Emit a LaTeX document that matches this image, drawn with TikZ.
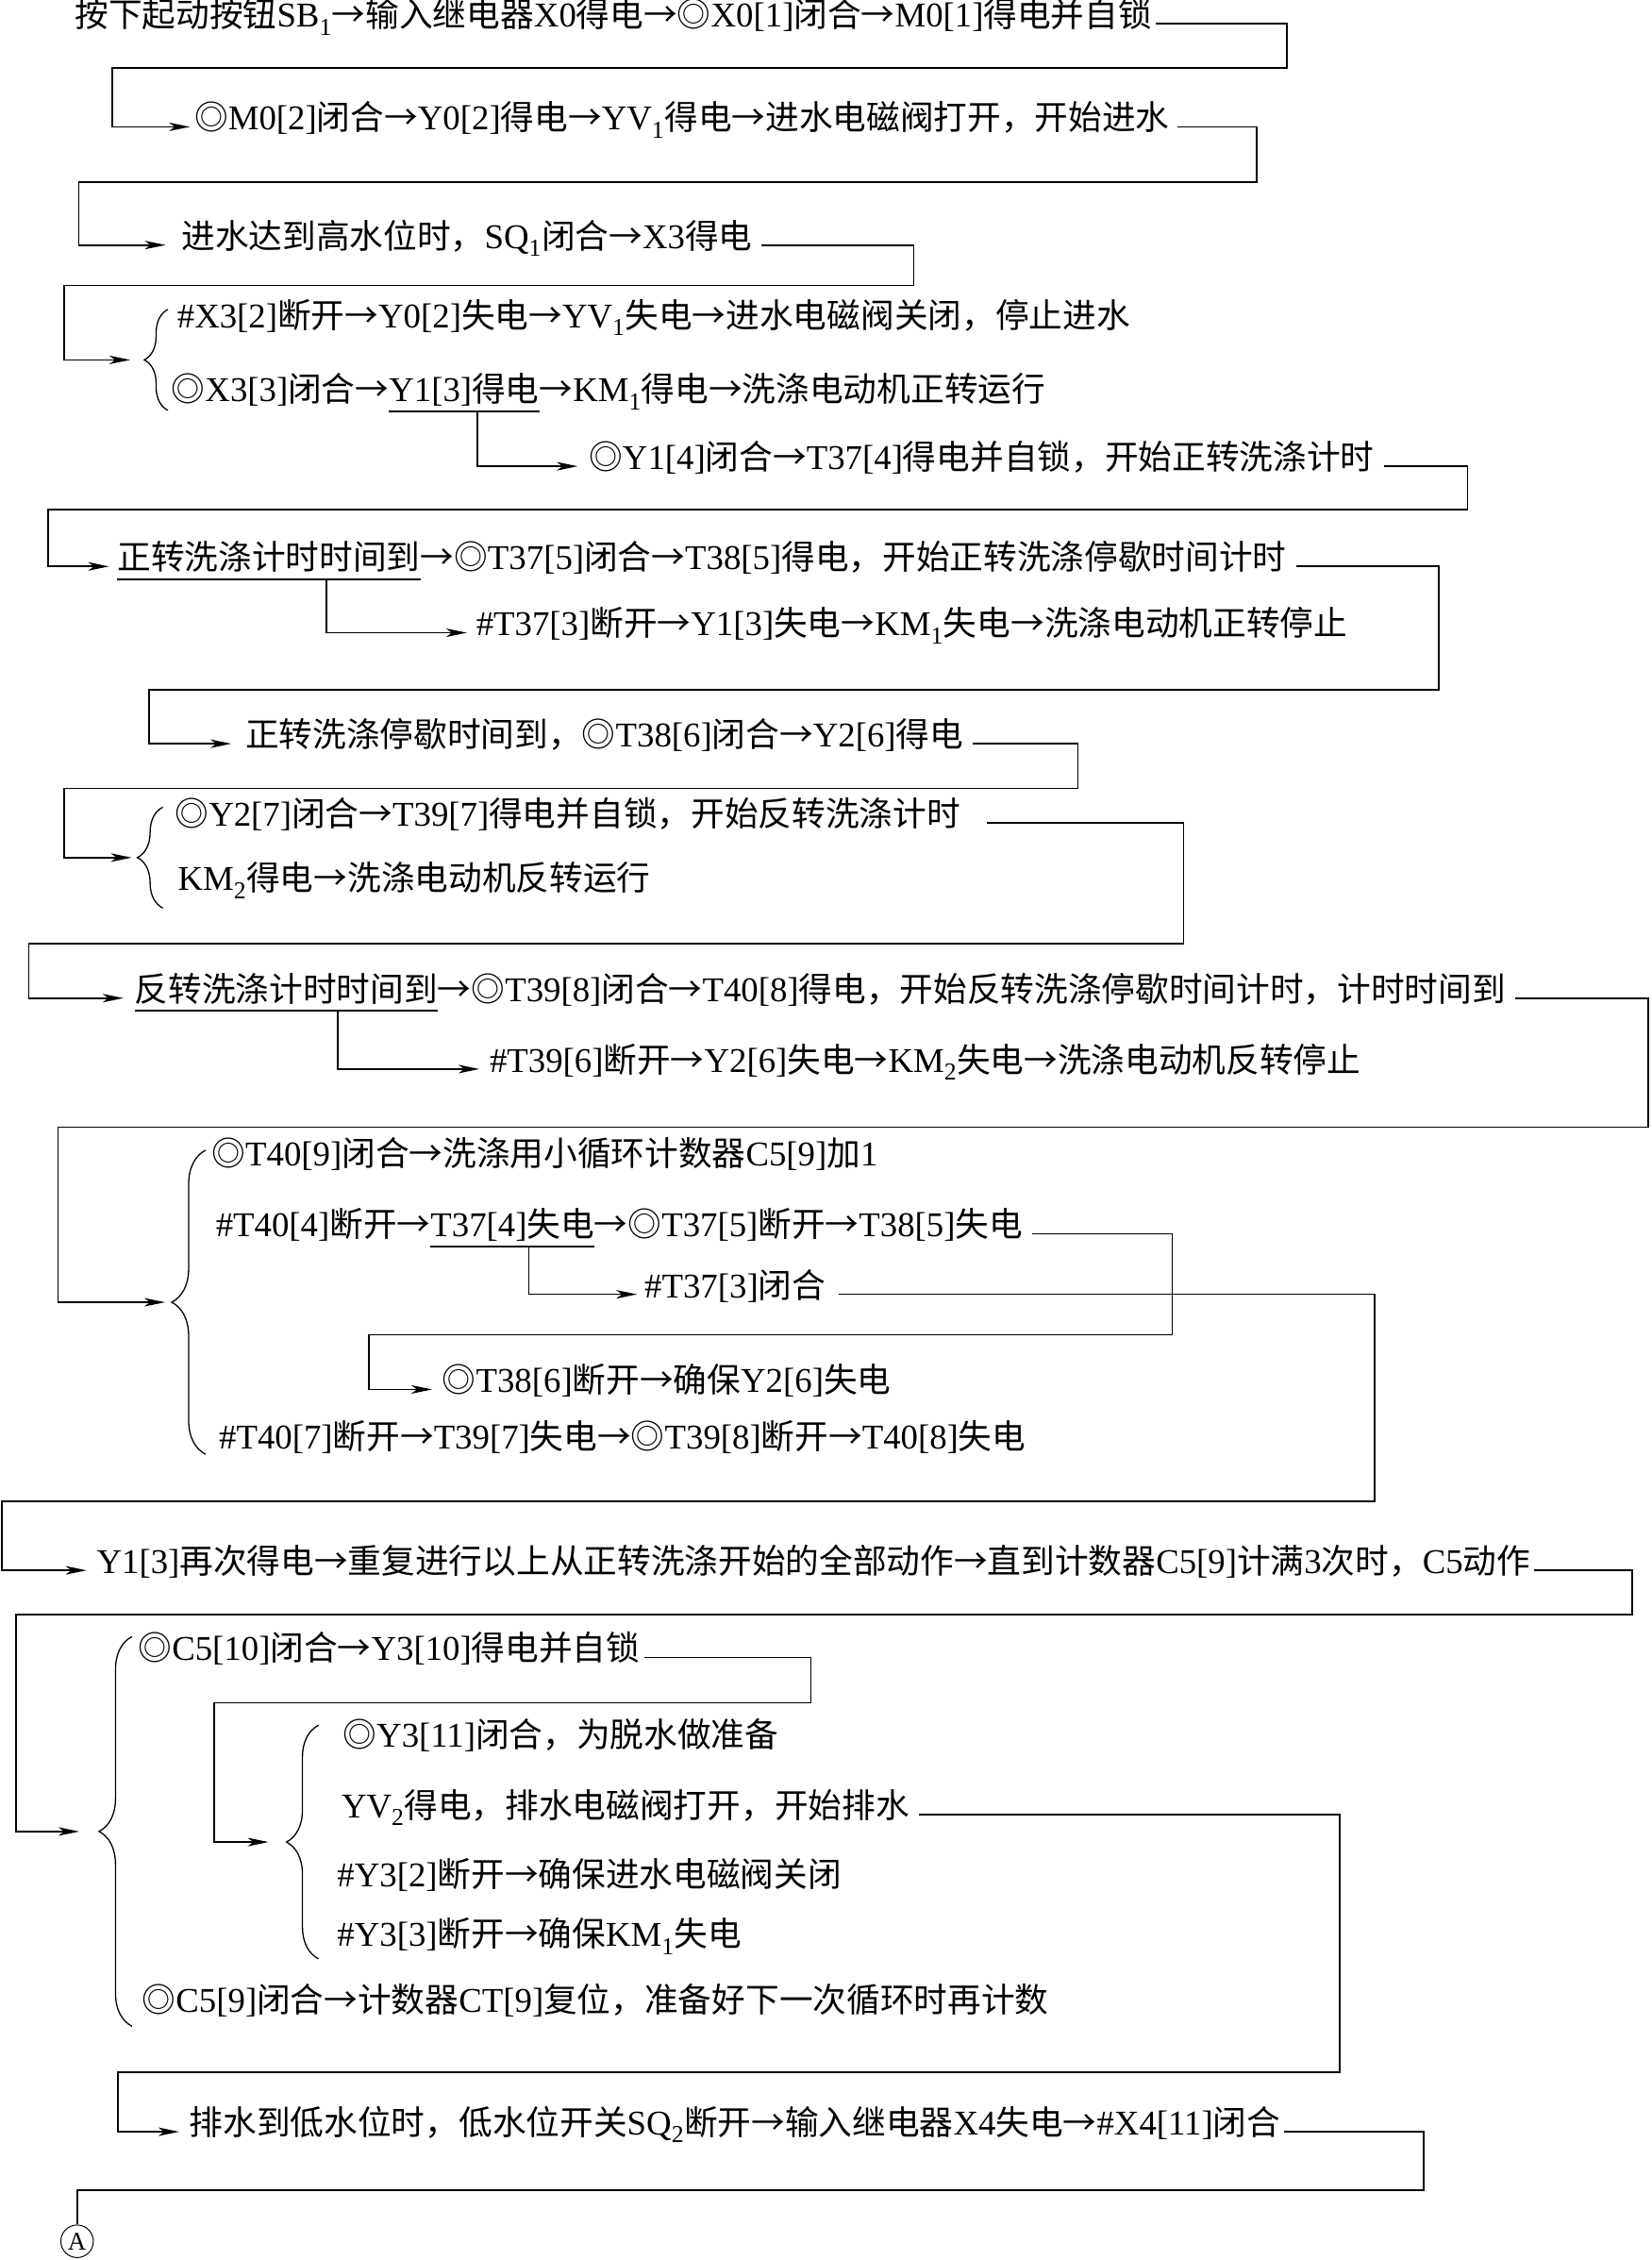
\documentclass[tikz,border=0pt]{standalone}
\usepackage{fontspec}
\setmainfont{Liberation Serif}
\newfontfamily\lafont{Liberation Serif}
\newfontfamily\zhfont[Scale=0.97]{Noto Sans CJK SC}
\usetikzlibrary{arrows.meta,decorations.pathreplacing,calc}
% automatic switch between Latin and CJK fonts
\XeTeXinterchartokenstate=1
\newXeTeXintercharclass\ZhCls
\newcount\zhcnt
\def\zhrange#1#2{\zhcnt=#1\relax\loop\XeTeXcharclass\zhcnt=\ZhCls\relax\advance\zhcnt by 1\relax\ifnum\zhcnt<#2\relax\repeat}
\zhrange{"4E00}{"A000}
\zhrange{"3000}{"3040}
\zhrange{"FF00}{"FFF0}
\zhrange{"2190}{"2200}
\zhrange{"25A0}{"2600}
\XeTeXinterchartoks 0 \ZhCls = {\zhfont}
\XeTeXinterchartoks 4095 \ZhCls = {\zhfont}
\XeTeXinterchartoks \ZhCls 0 = {\lafont}
\XeTeXinterchartoks \ZhCls 4095 = {\lafont}
\tikzset{
  txt/.style={anchor=west, inner sep=0pt, outer sep=0pt, text height=0.8em, text depth=0.12em,
    font=\fontsize{36.8}{40}\selectfont},
  conn/.style={line width=1.7pt},
  arr/.style={line width=1.7pt, -{Stealth[length=22pt,width=9pt,inset=6pt]}},
  brc/.style={line width=1.3pt, decorate, decoration={brace, amplitude=#1}},
  uln/.style={line width=1.9pt}
}
\begin{document}
\begin{tikzpicture}[x=1.528pt,y=-1.528pt]
\useasboundingbox (0,0) rectangle (1146,1568);

% ---------- texts ----------
\node[txt] (t1) at (52,16.5) {按下起动按钮SB\textsubscript{1}→输入继电器X0得电→◎X0[1]闭合→M0[1]得电并自锁};
\node[txt] (t2) at (135,88) {◎M0[2]闭合→Y0[2]得电→YV\textsubscript{1}得电→进水电磁阀打开，开始进水};
\node[txt] (t3) at (126,170) {进水达到高水位时，SQ\textsubscript{1}闭合→X3得电};
\node[txt] (t4a) at (123,225) {\#X3[2]断开→Y0[2]失电→YV\textsubscript{1}失电→进水电磁阀关闭，停止进水};
\node[txt] (t4b1) at (119,276.5) {◎X3[3]闭合→};
\node[txt] (t4b2) at (t4b1.east) {Y1[3]得电};
\node[txt] (t4b3) at (t4b2.east) {→KM\textsubscript{1}得电→洗涤电动机正转运行};
\node[txt] (t5) at (408.7,323.5) {◎Y1[4]闭合→T37[4]得电并自锁，开始正转洗涤计时};
\node[txt] (t6a) at (81.5,393) {正转洗涤计时时间到};
\node[txt] (t6b) at (t6a.east) {→◎T37[5]闭合→T38[5]得电，开始正转洗涤停歇时间计时};
\node[txt] (t7) at (330.5,439) {\#T37[3]断开→Y1[3]失电→KM\textsubscript{1}失电→洗涤电动机正转停止};
\node[txt] (t8) at (170.3,516) {正转洗涤停歇时间到，◎T38[6]闭合→Y2[6]得电};
\node[txt] (t9a) at (121.5,571) {◎Y2[7]闭合→T39[7]得电并自锁，开始反转洗涤计时};
\node[txt] (t9b) at (123.5,615.5) {KM\textsubscript{2}得电→洗涤电动机反转运行};
\node[txt] (t10a) at (93.5,692.5) {反转洗涤计时时间到};
\node[txt] (t10b) at (t10a.east) {→◎T39[8]闭合→T40[8]得电，开始反转洗涤停歇时间计时，计时时间到};
\node[txt] (t11) at (339.8,741.7) {\#T39[6]断开→Y2[6]失电→KM\textsubscript{2}失电→洗涤电动机反转停止};
\node[txt] (t12a) at (147,806.5) {◎T40[9]闭合→洗涤用小循环计数器C5[9]加1};
\node[txt] (t12b1) at (149.8,856) {\#T40[4]断开→};
\node[txt] (t12b2) at (t12b1.east) {T37[4]失电};
\node[txt] (t12b3) at (t12b2.east) {→◎T37[5]断开→T38[5]失电};
\node[txt] (t12c) at (447.3,898) {\#T37[3]闭合};
\node[txt] (t12d) at (307,964) {◎T38[6]断开→确保Y2[6]失电};
\node[txt] (t12e) at (152,1003) {\#T40[7]断开→T39[7]失电→◎T39[8]断开→T40[8]失电};
\node[txt] (t13) at (67.2,1089.5) {Y1[3]再次得电→重复进行以上从正转洗涤开始的全部动作→直到计数器C5[9]计满3次时，C5动作};
\node[txt] (t14a) at (96,1150) {◎C5[10]闭合→Y3[10]得电并自锁};
\node[txt] (t14b) at (238,1210) {◎Y3[11]闭合，为脱水做准备};
\node[txt] (t14c) at (237,1259) {YV\textsubscript{2}得电，排水电磁阀打开，开始排水};
\node[txt] (t14d) at (234,1306.7) {\#Y3[2]断开→确保进水电磁阀关闭};
\node[txt] (t14e) at (234,1348.2) {\#Y3[3]断开→确保KM\textsubscript{1}失电};
\node[txt] (t14f) at (98.7,1394) {◎C5[9]闭合→计数器CT[9]复位，准备好下一次循环时再计数};
\node[txt] (t15) at (131.5,1479) {排水到低水位时，低水位开关SQ\textsubscript{2}断开→输入继电器X4失电→\#X4[11]闭合};
\node[circle, draw, line width=1pt, minimum size=34.5pt, inner sep=0pt,
      font=\fontsize{27}{27}\selectfont] (A) at (53.5,1555) {A};

% ---------- braces ----------
\draw[brc=25pt] (116.5,284.7) -- (116.5,214.7);
\coordinate (b1) at (100.1,249.7);
\draw[brc=27pt] (113,630) -- (113,560);
\coordinate (b2) at (95.3,595);
\draw[brc=36pt] (142.7,1009) -- (142.7,798);
\coordinate (b3) at (119.1,903.5);
\draw[brc=35pt] (91.6,1405.8) -- (91.6,1135.5);
\coordinate (b4) at (68.7,1270.7);
\draw[brc=34pt] (221,1359) -- (221,1197);
\coordinate (b5) at (198.75,1278);

% ---------- underlines ----------
\draw[uln] ($(t4b2.south west)+(0pt,-9pt)$) -- ($(t4b2.south east)+(0pt,-9pt)$);
\coordinate (u1) at ($(t4b2.south west)!0.59!(t4b2.south east)+(0pt,-9pt)$);
\draw[uln] ($(t6a.south west)+(0pt,-9pt)$) -- ($(t6a.south east)+(0pt,-9pt)$);
\coordinate (u2) at ($(t6a.south west)!0.69!(t6a.south east)+(0pt,-9pt)$);
\draw[uln] ($(t10a.south west)+(0pt,-9pt)$) -- ($(t10a.south east)+(0pt,-9pt)$);
\coordinate (u3) at ($(t10a.south west)!0.67!(t10a.south east)+(0pt,-9pt)$);
\draw[uln] ($(t12b2.south west)+(0pt,-9pt)$) -- ($(t12b2.south east)+(0pt,-9pt)$);
\coordinate (u4) at ($(t12b2.south west)!0.6!(t12b2.south east)+(0pt,-9pt)$);

% ---------- connectors ----------
\draw[arr] ([xshift=4pt]t1.east) -| (893,47) -| (78,88) -- ([xshift=-5pt]t2.west);
\draw[arr] ([xshift=8pt]t2.east) -| (872,126.5) -| (54.6,170) -- ([xshift=-17pt]t3.west);
\draw[arr] ([xshift=10pt]t3.east) -| (634,198) -| (44.3,249.7) -- ([xshift=-15pt]b1);
\draw[arr] (u1) |- ([xshift=-12pt]t5.west);
\draw[arr] ([xshift=10pt]t5.east) -| (1018.4,353.4) -| (33.4,393) -- ([xshift=-9pt]t6a.west);
\draw[arr] (u2) |- ([xshift=-10pt]t7.west);
\draw[arr] ([xshift=10pt]t6b.east) -| (998.4,478.8) -| (103.5,516) -- ([xshift=-15pt]t8.west);
\draw[arr] ([xshift=10pt]t8.east) -| (748,547) -| (44.7,595) -- ([xshift=-6pt]b2);
\draw[arr] ([xshift=28pt]t9a.east) -| (821.4,654.9) -| (20,692.5) -- ([xshift=-12pt]t10a.west);
\draw[arr] (u3) |- ([xshift=-11pt]t11.west);
\draw[arr] ([xshift=10pt]t10b.east) -| (1143.7,782) -| (40.2,903.5) -- ([xshift=-7pt]b3);
\draw[arr] (u4) |- ([xshift=-8pt]t12c.west);
\draw[arr] ([xshift=10pt]t12b3.east) -| (813.4,926) -| (255.8,964) -- ([xshift=-11pt]t12d.west);
\draw[arr] ([xshift=14pt]t12c.east) -| (953.7,1041.7) -| (1.5,1089.5) -- ([xshift=-11pt]t13.west);
\draw[arr] ([xshift=4pt]t13.east) -| (1132.8,1120.2) -| (11,1270.7) -- ([xshift=-21pt]b4);
\draw[arr] ([xshift=5pt]t14a.east) -| (562.8,1181.3) -| (148.4,1278) -- ([xshift=-19pt]b5);
\draw[arr] ([xshift=10pt]t14c.east) -| (929.6,1437.6) -| (81.9,1479) -- ([xshift=-11pt]t15.west);
\draw[conn] ([xshift=4pt]t15.east) -| (988,1519.4) -| (A.north);
\end{tikzpicture}
\end{document}
